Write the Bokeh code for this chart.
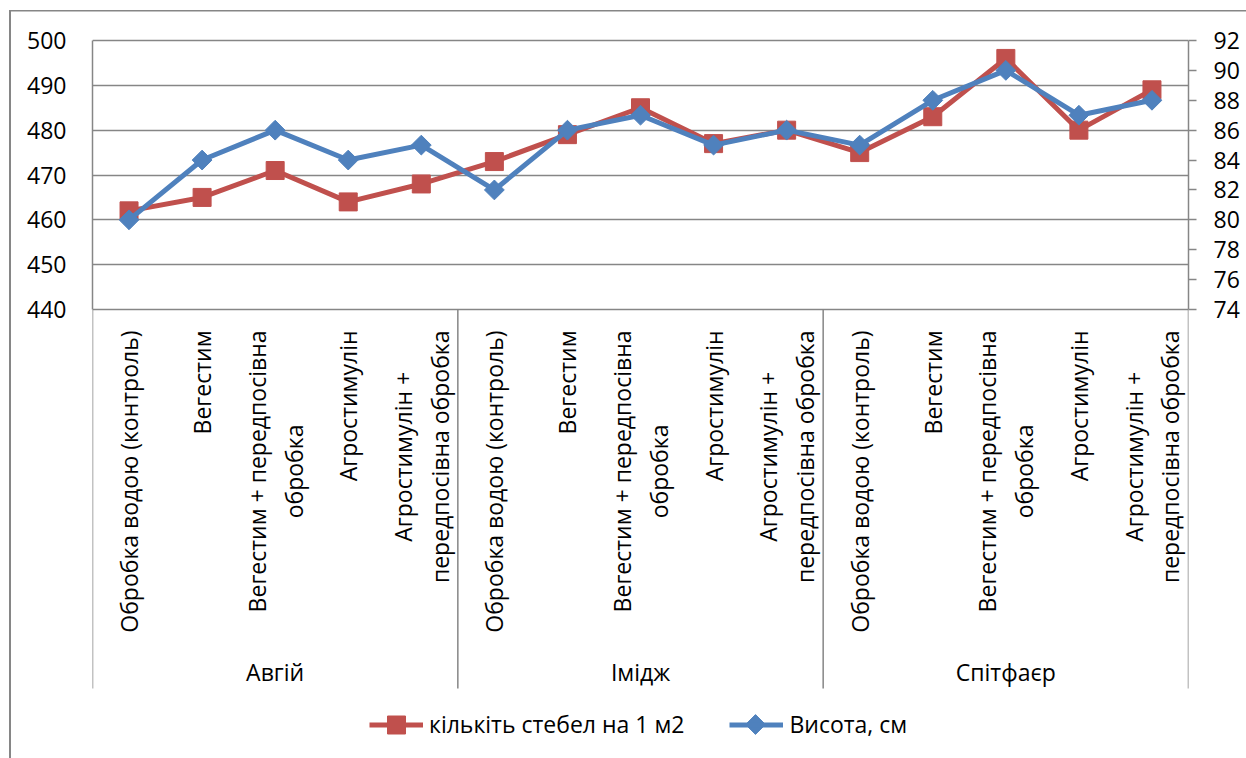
import math
from bokeh.plotting import figure
from bokeh.models import (FactorRange, Range1d, LinearAxis, FixedTicker, Label,
                          Arrow, Legend, LegendItem)
from bokeh.embed import file_html
from bokeh.resources import INLINE

# ---------------- data ----------------
groups = ["Авгій", "Імідж", "Спітфаєр"]
treatments = ["Обробка водою (контроль)", "Вегестим",
              "Вегестим + передпосівна обробка", "Агростимулін",
              "Агростимулін + передпосівна обробка"]
treatment_labels = ["Обробка водою (контроль)", "Вегестим",
                    "Вегестим + передпосівна\nобробка", "Агростимулін",
                    "Агростимулін +\nпередпосівна обробка"]
stems_per_m2 = [462, 465, 471, 464, 468,
                473, 479, 485, 477, 480,
                475, 483, 496, 480, 489]
height_cm = [80, 84, 86, 84, 85,
             82, 86, 87, 85, 86,
             85, 88, 90, 87, 88]
left_ticks = [440, 450, 460, 470, 480, 490, 500]
right_ticks = [74, 76, 78, 80, 82, 84, 86, 88, 90, 92]
series_names = ["кількіть стебел на 1 м2", "Висота, см"]

# ---------------- style / layout ----------------
FONT = "Open Sans"
FS = "23px"
GREY = "#868686"
RED = "#C0504D"
BLUE = "#4F81BD"

W, H = 1246, 758
FL, FR = 92, 1188          # plot-area left / right (page px)
PT, PB = 40, 309           # plot-area top / bottom (page px)
FRAME_TOP = 30             # drawing frame top; frame reaches page bottom

factors = [(g, t) for g in groups for t in treatments]
n_f = len(factors)
slot = (FR - FL) / n_f


def sx(px):
    """page pixel -> synthetic categorical coordinate"""
    return (px - FL) / slot


def extended(lo, hi):
    per = (PB - PT) / (hi - lo)
    return Range1d(lo - (H - PB) / per, hi + (PT - FRAME_TOP) / per)


p = figure(width=W, height=H, output_backend="svg", toolbar_location=None,
           x_range=FactorRange(factors=factors, factor_padding=0, group_padding=0,
                               subgroup_padding=0, range_padding=0),
           y_range=extended(left_ticks[0], left_ticks[-1]),
           x_axis_location=None,
           min_border_left=FL, min_border_right=W - FR,
           min_border_top=FRAME_TOP, min_border_bottom=0)
p.outline_line_color = None
p.background_fill_alpha = 0
p.border_fill_alpha = 0
# outer chart border (left and top edges) as the page element's inset shadows
p.styles = {
    "background-color": "white",
    "box-shadow": ("inset 9px 0 0 0 white, inset 0 10px 0 0 white, "
                   "inset 11px 0 0 0 #868686, inset 0 11.5px 0 0 #868686"),
}

# helper y range that maps 1:1 to page pixels
p.extra_y_ranges["px"] = Range1d(H, FRAME_TOP)
p.extra_y_ranges["right"] = extended(right_ticks[0], right_ticks[-1])

# left axis
ya = p.yaxis[0]
ya.ticker = FixedTicker(ticks=left_ticks)
ya.bounds = (left_ticks[0], left_ticks[-1])
ya.major_tick_out = 0
ya.major_tick_in = 0
ya.minor_tick_out = 0
ya.minor_tick_in = 0
ya.axis_line_color = GREY
ya.axis_line_width = 1.5
ya.major_label_standoff = 26
ya.major_label_text_font = FONT
ya.major_label_text_font_size = FS
ya.major_label_text_color = "black"

# right axis
ra = LinearAxis(y_range_name="right", ticker=FixedTicker(ticks=right_ticks),
                bounds=(right_ticks[0], right_ticks[-1]))
ra.major_tick_out = 8
ra.major_tick_in = 0
ra.minor_tick_out = 0
ra.minor_tick_in = 0
ra.axis_line_color = GREY
ra.axis_line_width = 1.5
ra.major_tick_line_color = GREY
ra.major_tick_line_width = 1.5
ra.major_label_standoff = 17
ra.major_label_text_font = FONT
ra.major_label_text_font_size = FS
ra.major_label_text_color = "black"
p.add_layout(ra, "right")

p.xgrid.visible = False
p.ygrid.ticker = FixedTicker(ticks=left_ticks)
p.ygrid.grid_line_color = GREY
p.ygrid.grid_line_width = 1.5

# ---------------- series ----------------
r_line = p.line(factors, stems_per_m2, line_color=RED, line_width=5)
r_pts = p.scatter(factors, stems_per_m2, marker="square", size=18,
                  fill_color=RED, line_color=RED)
b_line = p.line(factors, height_cm, line_color=BLUE, line_width=5,
                y_range_name="right")
b_pts = p.scatter(factors, height_cm, marker="square", size=14, angle=math.pi / 4,
                  fill_color=BLUE, line_color=BLUE, y_range_name="right")

# ---------------- category axis (drawn) ----------------
def seg(x0, y0, x1, y1, w=1.5):
    p.add_layout(Arrow(end=None, x_start=x0, y_start=y0, x_end=x1, y_end=y1,
                       line_color=GREY, line_width=w, y_range_name="px"))

n_g = len(groups)
per_g = len(treatments)
for k in range(n_g + 1):
    seg(k * per_g, PB, k * per_g, 688)

for f, (g, t) in enumerate(factors):
    lab = treatment_labels[treatments.index(t)]
    p.add_layout(Label(x=f + 0.5, y=330, y_range_name="px", text=lab,
                       angle=math.pi / 2, anchor="center_right", text_align="center",
                       text_font=FONT, text_font_size=FS, text_color="black",
                       text_line_height=1.15))

for k, g in enumerate(groups):
    p.add_layout(Label(x=(k + 0.5) * per_g, y=671, y_range_name="px", text=g,
                       text_align="center", text_baseline="middle",
                       text_font=FONT, text_font_size=FS, text_color="black"))

# ---------------- legend ----------------
leg_h = 45
leg_y = 724
legend = Legend(items=[LegendItem(label=series_names[0], renderers=[r_line, r_pts]),
                       LegendItem(label=series_names[1], renderers=[b_line])],
                orientation="horizontal",
                location=(369 - FL, H - (leg_y - leg_h / 2) - leg_h),
                glyph_width=54, glyph_height=leg_h, label_standoff=6, spacing=45,
                padding=0, margin=0, border_line_color=None,
                background_fill_alpha=0,
                label_text_font=FONT, label_text_font_size=FS,
                label_text_color="black")
p.add_layout(legend, "center")
# diamond symbol of the second legend entry (legend glyphs ignore marker angle)
p.scatter([sx(755)], [leg_y], y_range_name="px", marker="square", size=14,
          angle=math.pi / 4, fill_color=BLUE, line_color=BLUE)

open("out.html", "w").write(file_html(p, INLINE))
